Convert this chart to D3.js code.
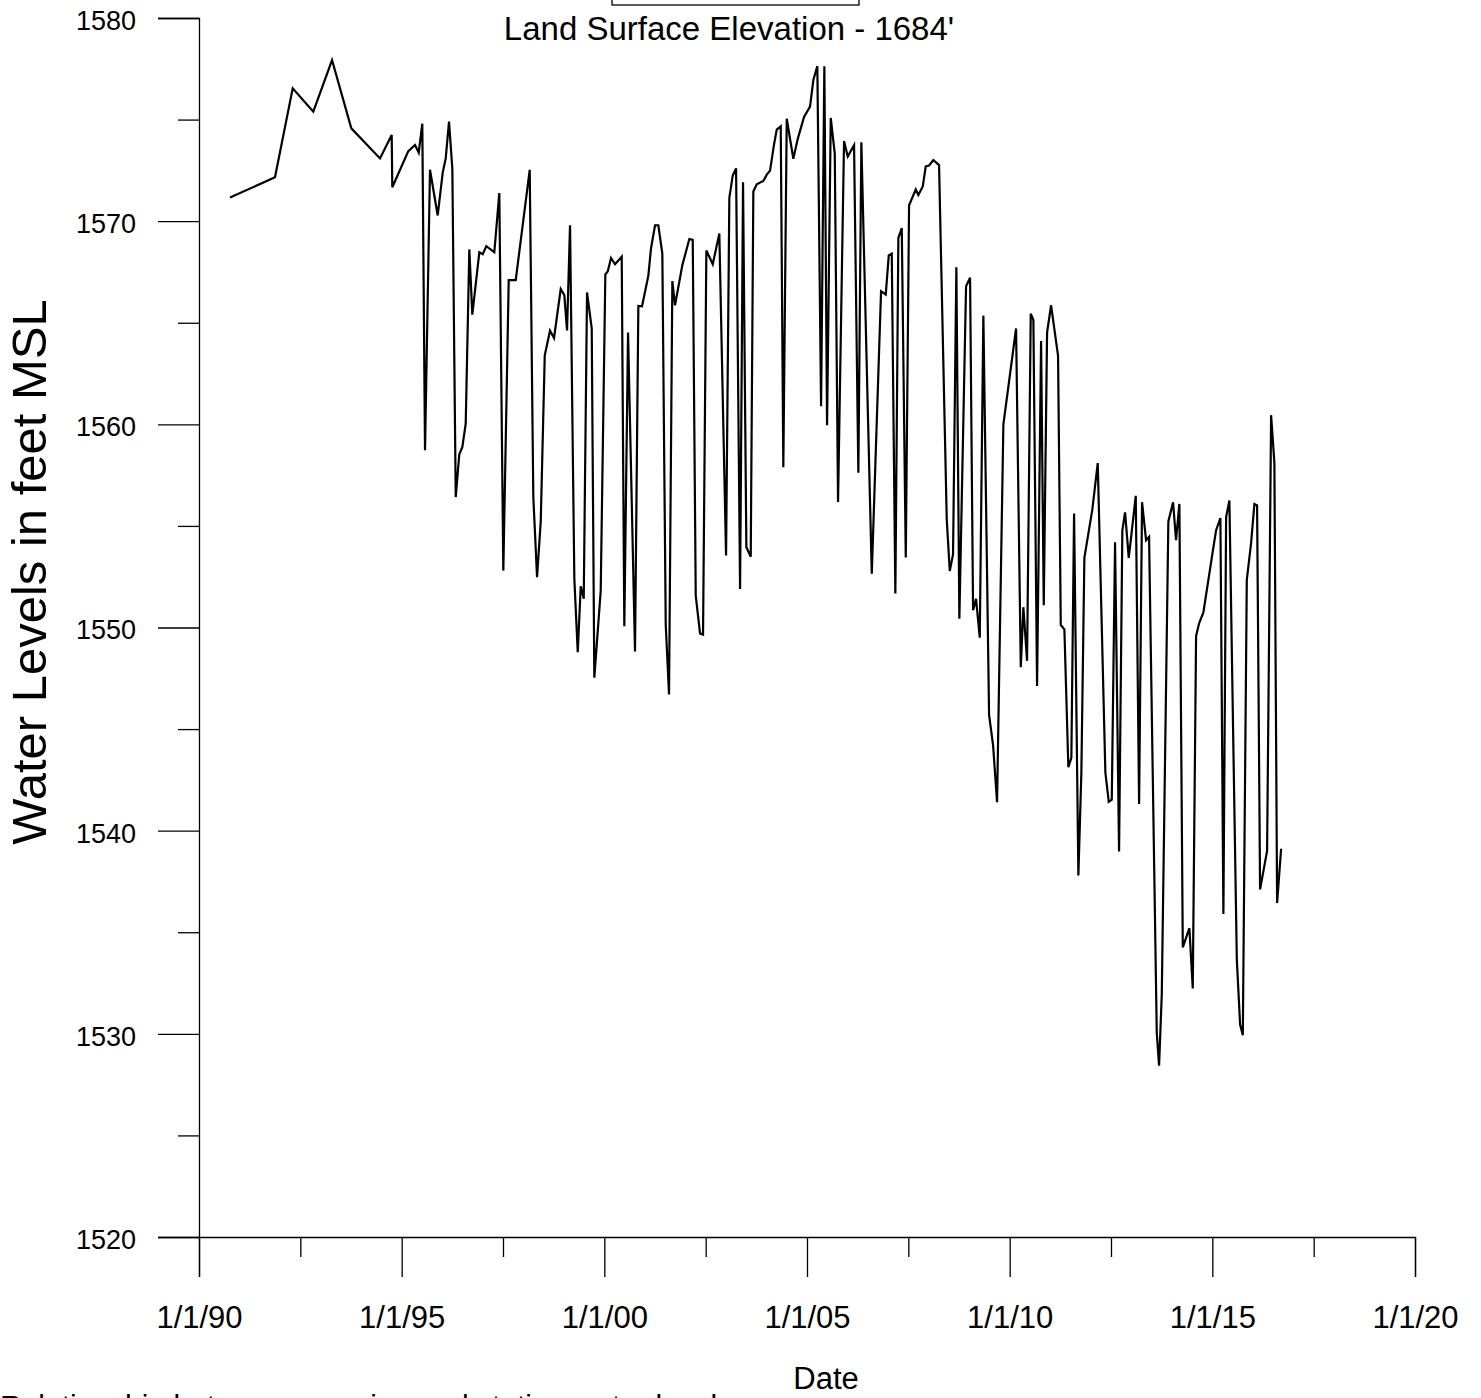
<!DOCTYPE html>
<html>
<head>
<meta charset="utf-8">
<script src="https://cdn.jsdelivr.net/npm/d3@7/dist/d3.min.js"></script>
<style>
  html, body { margin: 0; padding: 0; background: #fff; }
  svg { display: block; }
  text { font-family: "Liberation Sans", Arial, Helvetica, sans-serif; fill: #000; }
</style>
</head>
<body>
<svg id="chart" width="1481" height="1398"></svg>
<script>
// ---- data (decimal years, water level in feet MSL) ----
const years = [
  1990.765, 1991.875, 1992.312, 1992.820, 1993.282, 1993.758, 1994.466, 1994.754, 1994.769, 1995.164,
  1995.329, 1995.421, 1995.509, 1995.576, 1995.699, 1995.889, 1996.013, 1996.087, 1996.168, 1996.250,
  1996.334, 1996.422, 1996.496, 1996.580, 1996.669, 1996.743, 1996.916, 1997.000, 1997.089, 1997.286,
  1997.409, 1997.508, 1997.641, 1997.814, 1998.159, 1998.248, 1998.340, 1998.431, 1998.530, 1998.660,
  1998.759, 1998.924, 1999.013, 1999.080, 1999.154, 1999.260, 1999.344, 1999.418, 1999.492, 1999.573,
  1999.689, 1999.753, 1999.911, 2000.025, 2000.084, 2000.165, 2000.264, 2000.429, 2000.493, 2000.585,
  2000.757, 2000.839, 2000.930, 2001.086, 2001.152, 2001.251, 2001.332, 2001.431, 2001.515, 2001.596,
  2001.678, 2001.744, 2001.924, 2002.097, 2002.181, 2002.255, 2002.361, 2002.435, 2002.517, 2002.675,
  2002.837, 2003.003, 2003.084, 2003.168, 2003.250, 2003.349, 2003.422, 2003.504, 2003.612, 2003.676,
  2003.760, 2003.923, 2004.007, 2004.088, 2004.187, 2004.254, 2004.352, 2004.416, 2004.500, 2004.663,
  2004.772, 2004.927, 2005.075, 2005.157, 2005.255, 2005.347, 2005.428, 2005.495, 2005.586, 2005.685,
  2005.766, 2005.914, 2006.005, 2006.161, 2006.267, 2006.341, 2006.598, 2006.827, 2006.943, 2007.017,
  2007.091, 2007.180, 2007.254, 2007.338, 2007.437, 2007.518, 2007.683, 2007.747, 2007.856, 2007.930,
  2008.011, 2008.117, 2008.258, 2008.448, 2008.522, 2008.603, 2008.685, 2008.759, 2008.924, 2009.023,
  2009.097, 2009.171, 2009.262, 2009.351, 2009.492, 2009.591, 2009.689, 2009.845, 2010.158, 2010.274,
  2010.338, 2010.429, 2010.520, 2010.585, 2010.676, 2010.775, 2010.841, 2010.923, 2011.022, 2011.194,
  2011.261, 2011.350, 2011.448, 2011.522, 2011.589, 2011.695, 2011.769, 2011.843, 2012.040, 2012.173,
  2012.361, 2012.445, 2012.519, 2012.600, 2012.699, 2012.780, 2012.847, 2012.938, 2013.111, 2013.193,
  2013.266, 2013.365, 2013.439, 2013.629, 2013.686, 2013.753, 2013.915, 2014.031, 2014.105, 2014.187,
  2014.271, 2014.434, 2014.517, 2014.599, 2014.673, 2014.779, 2015.026, 2015.093, 2015.199, 2015.273,
  2015.340, 2015.421, 2015.604, 2015.685, 2015.752, 2015.850, 2015.956, 2016.038, 2016.104, 2016.178,
  2016.351, 2016.450, 2016.531, 2016.598, 2016.697
];
const levels = [
  1571.16, 1572.16, 1576.54, 1575.39, 1577.93, 1574.57, 1573.09, 1574.24, 1571.67, 1573.45,
  1573.75, 1573.37, 1574.80, 1558.73, 1572.53, 1570.28, 1572.39, 1573.09, 1574.90, 1572.59,
  1556.42, 1558.53, 1558.87, 1560.03, 1568.61, 1565.40, 1568.47, 1568.37, 1568.77, 1568.47,
  1571.38, 1552.80, 1567.10, 1567.10, 1572.53, 1556.42, 1552.48, 1555.21, 1563.39, 1564.61,
  1564.25, 1566.66, 1566.36, 1564.62, 1569.80, 1552.40, 1548.78, 1552.03, 1551.41, 1566.49,
  1564.73, 1547.53, 1551.82, 1567.38, 1567.52, 1568.19, 1567.88, 1568.25, 1550.06, 1564.52,
  1548.82, 1565.83, 1565.81, 1567.32, 1568.67, 1569.80, 1569.80, 1568.40, 1550.12, 1546.70,
  1567.05, 1565.86, 1567.83, 1569.12, 1569.08, 1551.57, 1549.71, 1549.65, 1568.56, 1567.88,
  1569.39, 1553.54, 1571.15, 1572.25, 1572.60, 1551.89, 1571.91, 1553.95, 1553.48, 1571.46,
  1571.81, 1571.98, 1572.29, 1572.49, 1573.78, 1574.51, 1574.67, 1557.89, 1575.04, 1573.07,
  1574.05, 1575.13, 1575.64, 1576.95, 1577.63, 1560.89, 1577.63, 1559.96, 1575.08, 1573.33,
  1556.18, 1573.95, 1573.18, 1573.74, 1557.62, 1573.88, 1552.65, 1566.55, 1566.39, 1568.31,
  1568.40, 1551.67, 1569.18, 1569.66, 1553.44, 1570.78, 1571.56, 1571.29, 1571.71, 1572.70,
  1572.74, 1573.01, 1572.76, 1555.30, 1552.78, 1553.60, 1567.73, 1550.43, 1566.80, 1567.21,
  1550.85, 1551.41, 1549.50, 1565.35, 1545.70, 1544.20, 1541.40, 1560.00, 1564.72, 1548.05,
  1551.00, 1548.36, 1565.44, 1565.14, 1547.12, 1564.10, 1551.10, 1564.51, 1565.86, 1563.37,
  1550.12, 1549.91, 1543.12, 1543.59, 1555.61, 1537.80, 1542.87, 1553.43, 1555.81, 1558.09,
  1542.87, 1541.42, 1541.52, 1554.20, 1538.97, 1554.78, 1555.67, 1553.43, 1556.48, 1541.31,
  1556.17, 1554.30, 1554.46, 1530.04, 1528.43, 1531.96, 1555.22, 1556.16, 1554.30, 1556.08,
  1534.26, 1535.20, 1532.23, 1549.57, 1550.21, 1550.74, 1553.94, 1554.79, 1555.39, 1535.90,
  1555.43, 1556.25, 1533.66, 1530.46, 1529.93, 1552.34, 1554.15, 1556.08, 1556.01, 1537.11,
  1539.00, 1560.45, 1558.10, 1536.44, 1539.11
];
const xTickValues = [1990, 1995, 2000, 2005, 2010, 2015, 2020];
const xTickLabels = ["1/1/90", "1/1/95", "1/1/00", "1/1/05", "1/1/10", "1/1/15", "1/1/20"];
const xMinorValues = [1992.5, 1997.5, 2002.5, 2007.5, 2012.5, 2017.5];
const yTickValues = [1520, 1530, 1540, 1550, 1560, 1570, 1580];
const yMinorValues = [1525, 1535, 1545, 1555, 1565, 1575];
const titleText = "Land Surface Elevation - 1684'";
const xAxisTitle = "Date";
const yAxisTitle = "Water Levels in feet MSL";
const footnoteText = "Relationship between pumping and station water levels";

// ---- drawing ----
const svg = d3.select("#chart");
const x = d3.scaleLinear().domain([1990, 2020]).range([199, 1415]);
const y = d3.scaleLinear().domain([1520, 1580]).range([1237, 18]);
const font = '"Liberation Sans", Arial, Helvetica, sans-serif';

// y axis major
const yAxis = d3.axisLeft(y).tickValues(yTickValues).tickSize(41).tickPadding(22)
  .tickFormat(d3.format("d"));
const gy = svg.append("g").attr("transform", "translate(199,0)").call(yAxis);
gy.select(".domain").attr("stroke", "#000").attr("stroke-width", 1.3);
gy.selectAll(".tick line").attr("stroke", "#000").attr("stroke-width", 1.3);
gy.selectAll(".tick text").attr("font-size", 27).attr("font-family", font).attr("dy", "0.42em");
// y axis minor
const gyMinor = svg.append("g").attr("transform", "translate(199,0)")
  .call(d3.axisLeft(y).tickValues(yMinorValues).tickSize(21).tickFormat(""));
gyMinor.select(".domain").remove();
gyMinor.selectAll(".tick line").attr("stroke", "#000").attr("stroke-width", 1.3);

// x axis major
const xAxis = d3.axisBottom(x).tickValues(xTickValues).tickSize(40).tickPadding(29)
  .tickFormat((d, i) => xTickLabels[i]);
const gx = svg.append("g").attr("transform", "translate(0,1237)").call(xAxis);
gx.select(".domain").attr("stroke", "#000").attr("stroke-width", 1.3);
gx.selectAll(".tick line").attr("stroke", "#000").attr("stroke-width", 1.3);
gx.selectAll(".tick text").attr("font-size", 31).attr("font-family", font);
// x axis minor
const gxMinor = svg.append("g").attr("transform", "translate(0,1237)")
  .call(d3.axisBottom(x).tickValues(xMinorValues).tickSize(20).tickFormat(""));
gxMinor.select(".domain").remove();
gxMinor.selectAll(".tick line").attr("stroke", "#000").attr("stroke-width", 1.3);

// data line
const line = d3.line().x((d, i) => x(years[i])).y((d, i) => y(levels[i]));
svg.append("path").datum(levels)
  .attr("d", line)
  .attr("fill", "none")
  .attr("stroke", "#000")
  .attr("stroke-width", 2.2)
  .attr("stroke-linejoin", "miter");

// title box (cut off at top) and title
svg.append("rect").attr("x", 612).attr("y", -2).attr("width", 247).attr("height", 7)
  .attr("fill", "none").attr("stroke", "#000").attr("stroke-width", 1.3);
svg.append("text").attr("x", 729).attr("y", 40).attr("text-anchor", "middle")
  .attr("font-size", 33).text(titleText);

// axis titles
svg.append("text").attr("x", 826).attr("y", 1389).attr("text-anchor", "middle")
  .attr("font-size", 31).text(xAxisTitle);
svg.append("text").attr("transform", "translate(46,572) rotate(-90)")
  .attr("text-anchor", "middle").attr("font-size", 49).text(yAxisTitle);

// footnote, cut off at bottom edge as in the source
svg.append("text").attr("x", 0).attr("y", 1416).attr("font-size", 30).text(footnoteText);
</script>
</body>
</html>
